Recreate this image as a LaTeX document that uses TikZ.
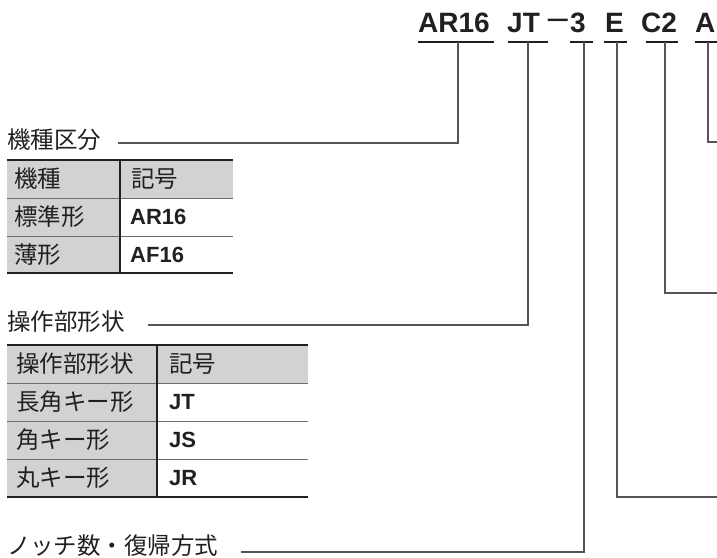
\documentclass[tikz,border=0pt]{standalone}
\usepackage{fontspec}
\usepackage{xcolor}
\usepackage{tikz}
\setmainfont{Liberation Sans}
\newfontfamily\jpfont{Noto Sans CJK JP}
\definecolor{inkcolor}{RGB}{35,31,32}
\definecolor{leadercolor}{RGB}{85,85,85}
\definecolor{cellcolor}{RGB}{210,210,210}
\definecolor{rulecolor}{RGB}{110,110,110}

\begin{document}
\begin{tikzpicture}[x=1pt,y=-1pt,
    every node/.style={inner sep=0pt,text=inkcolor},
    code/.style={anchor=base west,font=\fontsize{28}{28}\selectfont\bfseries},
    jplabel/.style={anchor=west,font=\fontsize{23.5}{23.5}\selectfont\jpfont},
    cellbold/.style={anchor=west,font=\fontsize{22}{22}\selectfont\bfseries},
    codeline/.style={line width=2.7pt,draw=inkcolor},
    leader/.style={line width=1.3pt,draw=leadercolor},
    thickrule/.style={line width=2.2pt,draw=inkcolor},
    thinrule/.style={line width=1pt,draw=rulecolor},
    colrule/.style={line width=1.6pt,draw=inkcolor}]
    \useasboundingbox (0,0) rectangle (717,557);

    % Model code
    \node[code] (arcode) at (418,32) {AR16};
    \node[code] (jtcode) at (507,32) {JT};
    \node[anchor=base,font=\fontsize{36}{36}\selectfont] (dash) at (558,29) {–};
    \node[code] (notchcode) at (570,32) {3};
    \node[code] (ecode) at (605,32) {E};
    \node[code] (ccode) at (641,32) {C2};
    \node[code] (acode) at (695,32) {A};
    \draw[codeline] (418,42) -- (494,42);
    \draw[codeline] (508,42) -- (548,42);
    \draw[codeline] (570,42) -- (593,42);
    \draw[codeline] (604,42) -- (627,42);
    \draw[codeline] (646,42) -- (678,42);
    \draw[codeline] (695,42) -- (717,42);
    \coordinate (artop) at (458,42);
    \coordinate (jttop) at (528,42);
    \coordinate (notchtop) at (584,42);
    \coordinate (etop) at (617,42);
    \coordinate (ctop) at (665,42);
    \coordinate (atop) at (708,42);
    \coordinate (aend) at (717,142);
    \coordinate (cend) at (717,293);
    \coordinate (eend) at (717,497);

    % Labels
    \node[jplabel] (kishu) at (7,139.5) {機種区分};
    \node[jplabel] (sousa) at (7,321.5) {操作部形状};
    \node[jplabel] (notch) at (7,545.5) {ノッチ数・復帰方式};

    % Leaders
    \draw[leader] (artop) |- ([xshift=17pt,yshift=-3.5pt]kishu.east);
    \draw[leader] (jttop) |- ([xshift=23.5pt,yshift=-3.5pt]sousa.east);
    \draw[leader] (notchtop) |- ([xshift=22.5pt,yshift=-6.5pt]notch.east);
    \draw[leader] (etop) |- (eend);
    \draw[leader] (ctop) |- (cend);
    \draw[leader] (atop) |- (aend);

    % Model table
    \fill[cellcolor] (7,160) rectangle (233,198);
    \fill[cellcolor] (7,198) rectangle (120,273);
    \draw[thinrule] (7,198) -- (233,198) (7,236) -- (233,236);
    \draw[colrule] (120,160) -- (120,273);
    \draw[thickrule] (7,160) -- (233,160) (7,273) -- (233,273);
    \node[jplabel] (kishuhead) at (14,179) {機種};
    \node[jplabel] (kigouhead) at (131,179) {記号};
    \node[jplabel] (hyoujun) at (14,217) {標準形};
    \node[cellbold] (ar16) at (130,217) {AR16};
    \node[jplabel] (usugata) at (14,255) {薄形};
    \node[cellbold] (af16) at (130,255) {AF16};

    % Operator table
    \fill[cellcolor] (7,345) rectangle (308,383);
    \fill[cellcolor] (7,383) rectangle (157,497);
    \draw[thinrule] (7,383) -- (308,383) (7,421) -- (308,421) (7,459) -- (308,459);
    \draw[colrule] (157,345) -- (157,497);
    \draw[thickrule] (7,345) -- (308,345) (7,497) -- (308,497);
    \node[jplabel] (sousahead) at (16,364) {操作部形状};
    \node[jplabel] (kigouhead2) at (169,364) {記号};
    \node[jplabel] (nagakaku) at (16,402) {長角キー形};
    \node[cellbold] (jt) at (169,402) {JT};
    \node[jplabel] (kaku) at (16,440) {角キー形};
    \node[cellbold] (js) at (169,440) {JS};
    \node[jplabel] (maru) at (16,478) {丸キー形};
    \node[cellbold] (jr) at (169,478) {JR};
\end{tikzpicture}
\end{document}
